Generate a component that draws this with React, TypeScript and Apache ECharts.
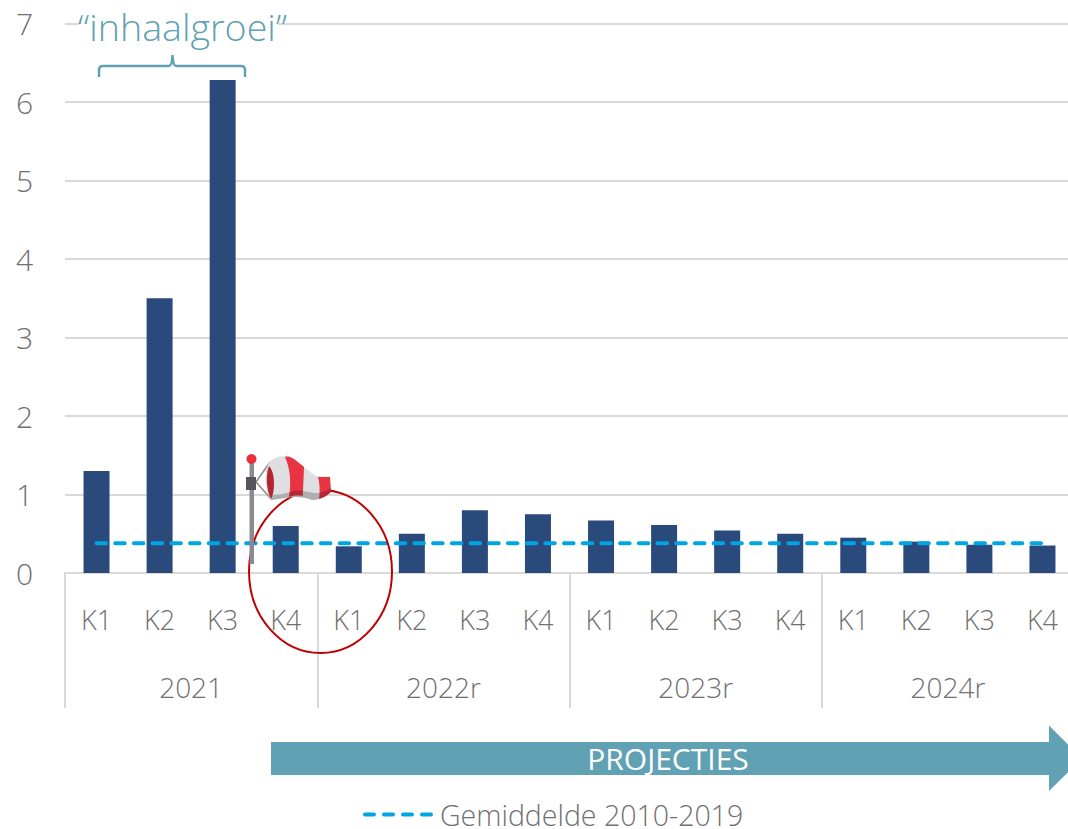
import React, { useEffect, useRef } from "react";
import * as echarts from "echarts";

const quarters = ["K1","K2","K3","K4","K1","K2","K3","K4","K1","K2","K3","K4","K1","K2","K3","K4"];
const years = ["2021", "2022r", "2023r", "2024r"];
const growth = [1.3, 3.5, 6.28, 0.6, 0.34, 0.5, 0.8, 0.75, 0.67, 0.61, 0.54, 0.5, 0.45, 0.4, 0.36, 0.35];
const average = [0.38,0.38,0.38,0.38,0.38,0.38,0.38,0.38,0.38,0.38,0.38,0.38,0.38,0.38,0.38,0.38];
const yTicks = { min: 0, max: 7, interval: 1 };
const averageName = "Gemiddelde 2010-2019";

const FONT = '"Open Sans", sans-serif';
const GREY = "#707070";
const GRID = "#d9d9d9";
const TEAL = "#60a2b3";
const DASH_ICON =
  "path://M2,0 H11 A2,2 0 0 1 11,4 H2 A2,2 0 0 1 2,0 Z " +
  "M21,0 H30 A2,2 0 0 1 30,4 H21 A2,2 0 0 1 21,0 Z " +
  "M40,0 H49 A2,2 0 0 1 49,4 H40 A2,2 0 0 1 40,0 Z " +
  "M59,0 H68 A2,2 0 0 1 68,4 H59 A2,2 0 0 1 59,0 Z";

const shape = (name: string, d: string) =>
  echarts.graphic.registerShape(name, (echarts.graphic as any).extendPath(d, {}));
shape("brace", "M99,77 L99,70 Q99,66 103,66 L169,66 Q172,66 172.5,55 Q173,66 176,66 L241,66 Q245,66 245,70 L245,77");
shape("sockBody", "M269,462 C275,456 285,455 292,458 C302,464 310,473 316,476 L330,477 L331,492 C325,498 318,500 312,500 C305,497 295,496 285,498 L271,500 C264,490 264,472 269,462 Z");
shape("sockStripeA", "M285,457 C288,456 290,457 292,458 C296,460 300,464 304,467 L303,491 C302,494 303,495 303,496 C297,495 292,496 289,497 C291,485 291,470 285,457 Z");
shape("sockStripeB", "M318,477 L330,477 L331,492 C327,496 322,498 319,499 C320,492 320,484 318,477 Z");
shape("sockMouth", "M269,466 C273,470 274,478 274,484 C274,490 273,495 271,499 C267,492 265,476 269,466 Z");
shape("sockShade", "M272,500 C270,498 269,496 268,494 C275,496 285,494 293,491 C302,489 312,494 319,493 C324,492 328,490 331,488 L331,492 C325,498 318,500 312,500 C305,497 295,496 285,498 Z");

export default function App() {
  const ref = useRef<HTMLDivElement>(null);
  useEffect(() => {
    const chart = echarts.init(ref.current!, undefined, { renderer: "svg" });
    chart.setOption({
      animation: false,
      backgroundColor: "#ffffff",
      textStyle: { fontFamily: FONT },
      grid: { left: 65, top: 23.5, width: 1009, height: 549.5, containLabel: false },
      legend: {
        data: [{ name: averageName, icon: DASH_ICON }],
        left: 358,
        top: 795,
        itemWidth: 70,
        itemHeight: 4,
        itemGap: 4,
        textStyle: { fontFamily: FONT, fontWeight: 300, fontSize: 28.5, color: GREY, padding: [0, 0, 0, 2] },
      },
      xAxis: [
        {
          type: "category",
          data: quarters,
          position: "bottom",
          axisLine: { show: true, lineStyle: { color: GRID, width: 2 } },
          axisTick: { show: false },
          axisLabel: { interval: 0, margin: 33, fontFamily: FONT, fontWeight: 300, fontSize: 27, color: GREY },
        },
        {
          type: "category",
          data: years,
          position: "bottom",
          axisLine: { show: false },
          axisTick: { show: true, length: 135, lineStyle: { color: GRID, width: 2 } },
          axisLabel: { interval: 0, margin: 100, fontFamily: FONT, fontWeight: 300, fontSize: 28, color: GREY },
        },
      ],
      yAxis: {
        type: "value",
        ...yTicks,
        axisLine: { show: false },
        axisTick: { show: false },
        splitLine: { lineStyle: { color: GRID, width: 2 } },
        axisLabel: { margin: 32, fontFamily: FONT, fontWeight: 300, fontSize: 30, color: GREY },
      },
      series: [
        {
          type: "bar",
          name: "Groei",
          data: growth,
          xAxisIndex: 0,
          barWidth: 26,
          itemStyle: { color: "#2a4a7c" },
        },
        {
          type: "line",
          name: averageName,
          data: average,
          xAxisIndex: 0,
          showSymbol: false,
          symbol: "none",
          lineStyle: { color: "#00a6e3", width: 4, type: [9.5, 9.2], cap: "round" },
          itemStyle: { color: "#00a6e3" },
        },
      ],
      graphic: [
        { type: "rect", z: 10, shape: { x: 79, y: 16, width: 199, height: 16 }, style: { fill: "#ffffff" } },
        {
          type: "text", z: 11, x: 78, y: 26,
          style: { text: "\u201Cinhaalgroei\u201D", fill: TEAL, font: `300 37.6px ${FONT}`, textAlign: "left", textVerticalAlign: "middle" },
        },
        { type: "brace", z: 11, style: { fill: "none", stroke: TEAL, lineWidth: 2.5 } },
        {
          type: "polygon", z: 11,
          shape: { points: [[271, 742], [1049, 742], [1049, 725.5], [1082, 758.5], [1049, 791], [1049, 775], [271, 775]] },
          style: { fill: TEAL },
        },
        {
          type: "text", z: 12, x: 668, y: 758,
          style: { text: "PROJECTIES", fill: "#ffffff", font: `400 30px ${FONT}`, textAlign: "center", textVerticalAlign: "middle" },
        },
        {
          type: "ellipse", z: 13,
          shape: { cx: 320.5, cy: 571.5, rx: 71.5, ry: 81.5 },
          style: { fill: "none", stroke: "#c00000", lineWidth: 2 },
        },
        { type: "line", z: 14, shape: { x1: 256, y1: 482, x2: 270, y2: 462 }, style: { stroke: "#8b8a92", lineWidth: 1.5 } },
        { type: "line", z: 14, shape: { x1: 256, y1: 482, x2: 272, y2: 500 }, style: { stroke: "#8b8a92", lineWidth: 1.5 } },
        { type: "rect", z: 14, shape: { x: 249.5, y: 459, width: 4.5, height: 105 }, style: { fill: "#8b8a92" } },
        { type: "rect", z: 15, shape: { x: 246, y: 477, width: 10, height: 13 }, style: { fill: "#56555b" } },
        { type: "circle", z: 15, shape: { cx: 251.5, cy: 459, r: 5 }, style: { fill: "#e8303f" } },
        { type: "sockBody", z: 14, style: { fill: "#dfdee2" } },
        { type: "sockStripeA", z: 15, style: { fill: "#e83342" } },
        { type: "sockStripeB", z: 15, style: { fill: "#e83342" } },
        { type: "sockShade", z: 16, style: { fill: "#000000", opacity: 0.22 } },
        { type: "sockMouth", z: 17, style: { fill: "#b3262f" } },
      ],
    });
    return () => chart.dispose();
  }, []);
  return (
    <div style={{ position: "fixed", left: 0, top: 0, width: 1068, height: 829, overflow: "hidden", background: "#fff" }}>
      <div ref={ref} style={{ width: 1100, height: 829 }} />
    </div>
  );
}
